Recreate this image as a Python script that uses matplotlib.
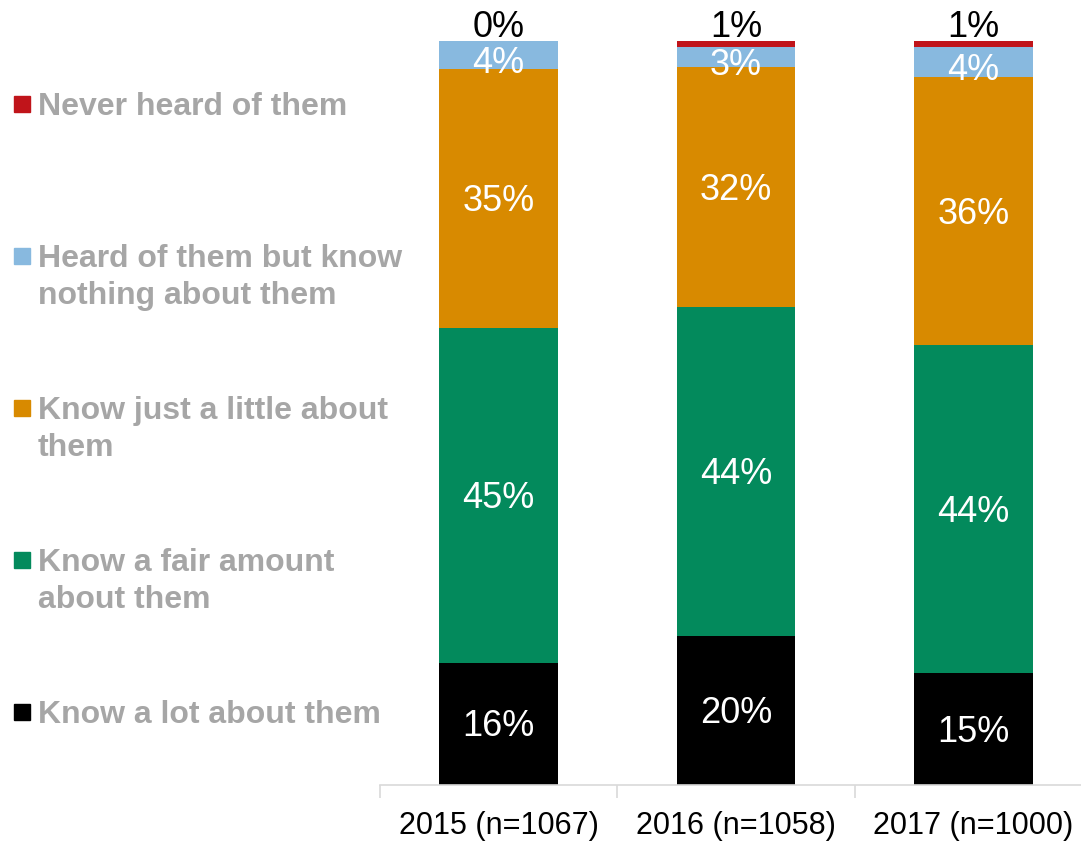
import numpy as np
import matplotlib.pyplot as plt
from matplotlib.patches import Rectangle

plt.rcParams['font.family'] = ['Liberation Sans', 'DejaVu Sans']

years = ['2015 (n=1067)', '2016 (n=1058)', '2017 (n=1000)']
labels = ['Know a lot about them', 'Know a fair amount\nabout them',
          'Know just a little about\nthem', 'Heard of them but know\nnothing about them',
          'Never heard of them']
colors = ['#000000', '#038A5C', '#D88A00', '#88B9DF', '#C0141A']

lot = [16.4, 20.0, 15.0]
fair = [45.0, 44.2, 44.1]
little = [34.8, 32.3, 36.0]
heard = [3.8, 2.7, 4.1]
never = [0.0, 0.8, 0.8]
series = [lot, fair, little, heard, never]

fig = plt.figure(figsize=(10.81, 8.41), dpi=100)
ax = fig.add_axes([380/1081, 1 - 785/841, 712/1081, 744/841])

ind = np.arange(len(years))
width = 0.5
bottom = np.zeros(len(years))
for i, vals in enumerate(series):
    vals = np.array(vals)
    rects = ax.bar(ind, vals, width, bottom=bottom, color=colors[i], linewidth=0)
    for j, r in enumerate(rects):
        txt = '%d%%' % int(round(vals[j]))
        if i == len(series) - 1:
            # top segment labelled above the bar
            ax.annotate(txt, (r.get_x() + r.get_width()/2., bottom[j] + vals[j]),
                        xytext=(0, -3), textcoords='offset points',
                        ha='center', va='bottom', fontsize=26, color='black')
        else:
            # thin segments: label sits a little lower, like the original
            shift = 1.1 if vals[j] < 6 else 0.4
            ax.text(r.get_x() + r.get_width()/2., bottom[j] + vals[j]/2. - shift, txt,
                    ha='center', va='center', fontsize=26, color='white')
    bottom += vals

ax.set_xlim(-0.5, 2.5)
ax.set_ylim(0, 100)
for s in ['top', 'left', 'right']:
    ax.spines[s].set_visible(False)
ax.spines['bottom'].set_color('#D9D9D9')
ax.spines['bottom'].set_linewidth(1.2)
ax.set_yticks([])
ax.set_xticks(ind)
ax.set_xticklabels(years, fontsize=22)
ax.set_xticks([-0.5, 0.5, 1.5, 2.5], minor=True)
ax.tick_params(axis='x', which='major', length=0, pad=19)
ax.tick_params(axis='x', which='minor', length=9, color='#D9D9D9', width=1.2)

# legend drawn down the left side
for k in range(len(labels)):
    i = len(labels) - 1 - k
    yc = 104 + 152*k
    fig.patches.append(Rectangle((14/1081, 1 - (yc + 8)/841), 16/1081, 16/841,
                                 transform=fig.transFigure, color=colors[i]))
    fig.text(38/1081, 1 - (yc - 12)/841, labels[i], ha='left', va='top',
             fontsize=23, fontweight='bold', color='#A6A6A6', linespacing=1.3)

fig.savefig('out.png', dpi=100)
